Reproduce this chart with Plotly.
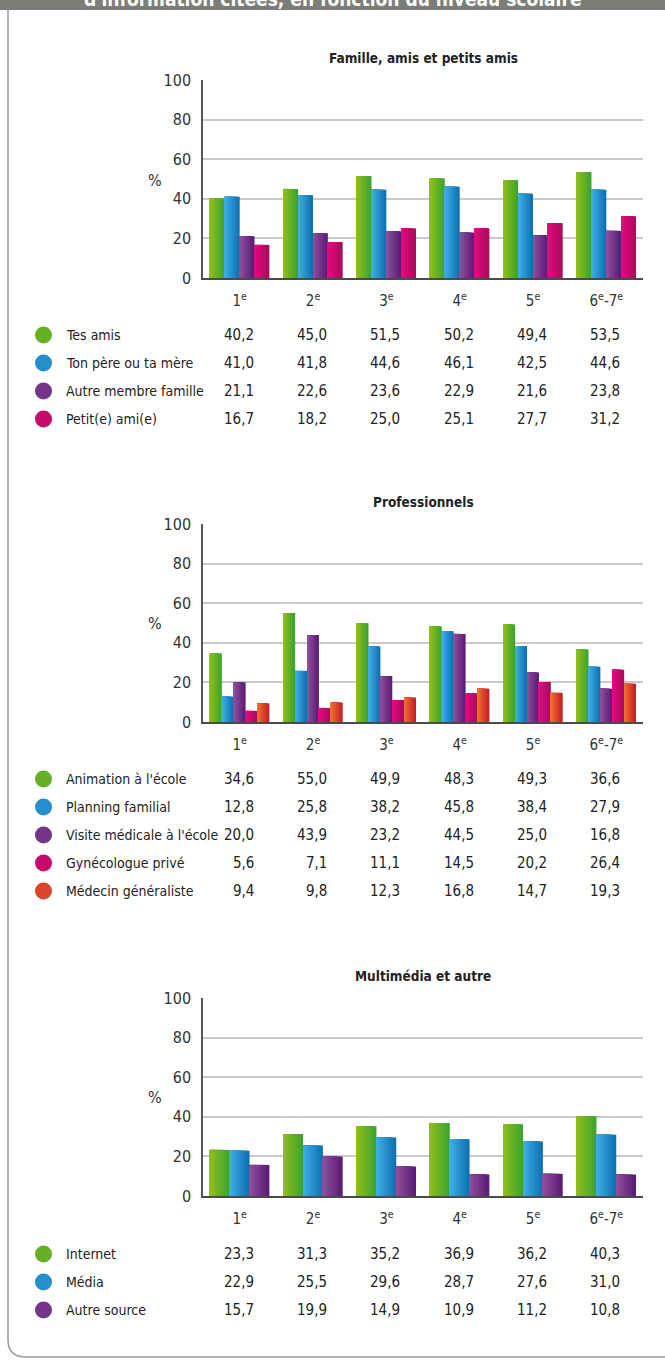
import plotly.graph_objects as go

W, H = 665, 1360
# measured vertical mapping of the photographed page: shown_y ~= 9 + 0.986 * layout_y
def T(t): return (t - 9) / 0.986
def px(x): return x / W
def py(t): return 1 - T(t) / H

FONT = "Liberation Sans Narrow, DejaVu Sans Condensed, Arial Narrow, sans-serif"

categories = ["1<sup>e</sup>", "2<sup>e</sup>", "3<sup>e</sup>", "4<sup>e</sup>", "5<sup>e</sup>", "6<sup>e</sup>-7<sup>e</sup>"]

# Panel 1 — Famille, amis et petits amis
famille_title = "Famille, amis et petits amis"
famille_names = ["Tes amis", "Ton père ou ta mère", "Autre membre famille", "Petit(e) ami(e)"]
tes_amis = [40.2, 45.0, 51.5, 50.2, 49.4, 53.5]
pere_mere = [41.0, 41.8, 44.6, 46.1, 42.5, 44.6]
autre_famille = [21.1, 22.6, 23.6, 22.9, 21.6, 23.8]
petit_ami = [16.7, 18.2, 25.0, 25.1, 27.7, 31.2]

# Panel 2 — Professionnels
pro_title = "Professionnels"
pro_names = ["Animation à l'école", "Planning familial", "Visite médicale à l'école",
             "Gynécologue privé", "Médecin généraliste"]
animation = [34.6, 55.0, 49.9, 48.3, 49.3, 36.6]
planning = [12.8, 25.8, 38.2, 45.8, 38.4, 27.9]
visite = [20.0, 43.9, 23.2, 44.5, 25.0, 16.8]
gyneco = [5.6, 7.1, 11.1, 14.5, 20.2, 26.4]
medecin = [9.4, 9.8, 12.3, 16.8, 14.7, 19.3]

# Panel 3 — Multimédia et autre
mm_title = "Multimédia et autre"
mm_names = ["Internet", "Média", "Autre source"]
internet = [23.3, 31.3, 35.2, 36.9, 36.2, 40.3]
media = [22.9, 25.5, 29.6, 28.7, 27.6, 31.0]
autre_source = [15.7, 19.9, 14.9, 10.9, 11.2, 10.8]

y_ticks = [0, 20, 40, 60, 80, 100]

# gradient colours (left, right)
GREEN = ("#8dbd1c", "#3da32f")
BLUE = ("#3cace3", "#0f70b3")
PURPLE = ("#8f4c99", "#5a1c77")
MAGENTA = ("#e5077f", "#a60f5a")
ORANGE = ("#ef6b30", "#c41f27")

def hex2rgb(h):
    h = h.lstrip("#")
    return tuple(int(h[i:i + 2], 16) for i in (0, 2, 4))

def mix(c1, c2, t):
    a, b = hex2rgb(c1), hex2rgb(c2)
    return "rgb(%d,%d,%d)" % tuple(round(a[i] + (b[i] - a[i]) * t) for i in range(3))

panels = [
    dict(title=famille_title, names=famille_names,
         series=[tes_amis, pere_mere, autre_famille, petit_ami],
         colors=[GREEN, BLUE, PURPLE, MAGENTA],
         top=80, bottom=278, title_y=58, row0=335, pct_y=180),
    dict(title=pro_title, names=pro_names,
         series=[animation, planning, visite, gyneco, medecin],
         colors=[GREEN, BLUE, PURPLE, MAGENTA, ORANGE],
         top=524, bottom=722, title_y=502, row0=779, pct_y=623),
    dict(title=mm_title, names=mm_names,
         series=[internet, media, autre_source],
         colors=[GREEN, BLUE, PURPLE],
         top=998, bottom=1196, title_y=976, row0=1254, pct_y=1097),
]

ROW_STEP = 28
GROUP_W = 0.81
STRIPS = 10

fig = go.Figure()
annotations = []
shapes = []
layout_axes = {}
xidx = list(range(len(categories)))

for p_i, p in enumerate(panels):
    n = p_i + 1
    xa = "x" if n == 1 else f"x{n}"
    ya = "y" if n == 1 else f"y{n}"
    ns = len(p["series"])
    w = GROUP_W / ns
    for s_i, (vals, col) in enumerate(zip(p["series"], p["colors"])):
        left = -GROUP_W / 2 + s_i * w
        for j in range(STRIPS):
            frac = 1 - j / STRIPS
            t = 1 - (j / (STRIPS - 1))
            fig.add_trace(go.Bar(
                x=xidx, y=vals, xaxis=xa, yaxis=ya,
                width=w * frac, offset=left,
                marker=dict(color=mix(col[0], col[1], t), line=dict(width=0)),
                showlegend=False, hoverinfo="skip",
            ))
    dom_y = [py(p["bottom"]), py(p["top"])]
    layout_axes["xaxis" if n == 1 else f"xaxis{n}"] = dict(
        domain=[px(203), px(643)], anchor=ya, type="linear",
        range=[-0.5, len(categories) - 0.5],
        tickmode="array", tickvals=xidx, ticktext=categories,
        showgrid=False, zeroline=False, showline=True, linecolor="#4a4a4a", linewidth=2,
        ticks="", ticklabelstandoff=8,
        tickfont=dict(family=FONT, size=15, color="#333333"),
    )
    layout_axes["yaxis" if n == 1 else f"yaxis{n}"] = dict(
        domain=dom_y, anchor=xa, range=[0, 100],
        tickmode="array", tickvals=y_ticks,
        showgrid=True, gridcolor="#c9c9c9", gridwidth=1.5,
        zeroline=False, showline=True, linecolor="#555555", linewidth=1.5,
        ticks="", ticklabelstandoff=7,
        tickfont=dict(family=FONT, size=16, color="#333333"),
    )
    # panel title
    annotations.append(dict(text="<b>" + p["title"] + "</b>", x=px(423), y=py(p["title_y"]),
                            xref="paper", yref="paper", showarrow=False,
                            xanchor="center", yanchor="middle",
                            font=dict(family=FONT, size=13.5, color="#222222")))
    # % label
    annotations.append(dict(text="%", x=px(155), y=py(p["pct_y"]), xref="paper", yref="paper",
                            showarrow=False, xanchor="center", yanchor="middle",
                            font=dict(family=FONT, size=16, color="#333333")))
    # table
    for r_i, (name, vals, col) in enumerate(zip(p["names"], p["series"], p["colors"])):
        ry = p["row0"] + r_i * ROW_STEP
        shapes.append(dict(type="circle", xref="paper", yref="paper",
                           x0=px(35), x1=px(52), y0=py(ry + 8.5), y1=py(ry - 8.5),
                           fillcolor=mix(col[0], col[1], 0.5), line=dict(width=0)))
        annotations.append(dict(text=name, x=px(64), y=py(ry), xref="paper", yref="paper",
                                showarrow=False, xanchor="left", yanchor="middle",
                                font=dict(family=FONT, size=14, color="#222222")))
        for c_i, v in enumerate(vals):
            annotations.append(dict(text=f"{v:.1f}".replace(".", ","), x=c_i, y=py(ry),
                                    xref=xa, yref="paper", showarrow=False,
                                    xanchor="right", yanchor="middle", xshift=16,
                                    font=dict(family=FONT, size=15, color="#222222")))

# header bar (cut off at top)
shapes.append(dict(type="rect", xref="paper", yref="paper", x0=0, x1=1, y0=py(10), y1=py(-2),
                   fillcolor="#7d7d78", line=dict(width=0), layer="below"))
annotations.append(dict(text="<b>d'information citées, en fonction du niveau scolaire</b>",
                        x=px(333), y=py(-1), xref="paper", yref="paper", showarrow=False,
                        xanchor="center", yanchor="middle",
                        font=dict(family=FONT, size=19, color="white")))
# frame: left border with rounded bottom corner
path = (f"M {px(8)},{py(10)} L {px(8)},{py(1340)} "
        f"Q {px(8)},{py(1357)} {px(26)},{py(1357)} L {px(665)},{py(1357)}")
shapes.append(dict(type="path", xref="paper", yref="paper", path=path,
                   line=dict(color="#9a9a9a", width=1.5), layer="below"))

fig.update_layout(
    width=W, height=H, margin=dict(l=0, r=0, t=0, b=0),
    paper_bgcolor="white", plot_bgcolor="white",
    barmode="overlay", showlegend=False,
    annotations=annotations, shapes=shapes,
    font=dict(family=FONT),
    **layout_axes,
)

fig.write_html("out.html", config={"displayModeBar": False},
               post_script="document.body.style.margin='0';document.body.style.overflow='hidden';")
